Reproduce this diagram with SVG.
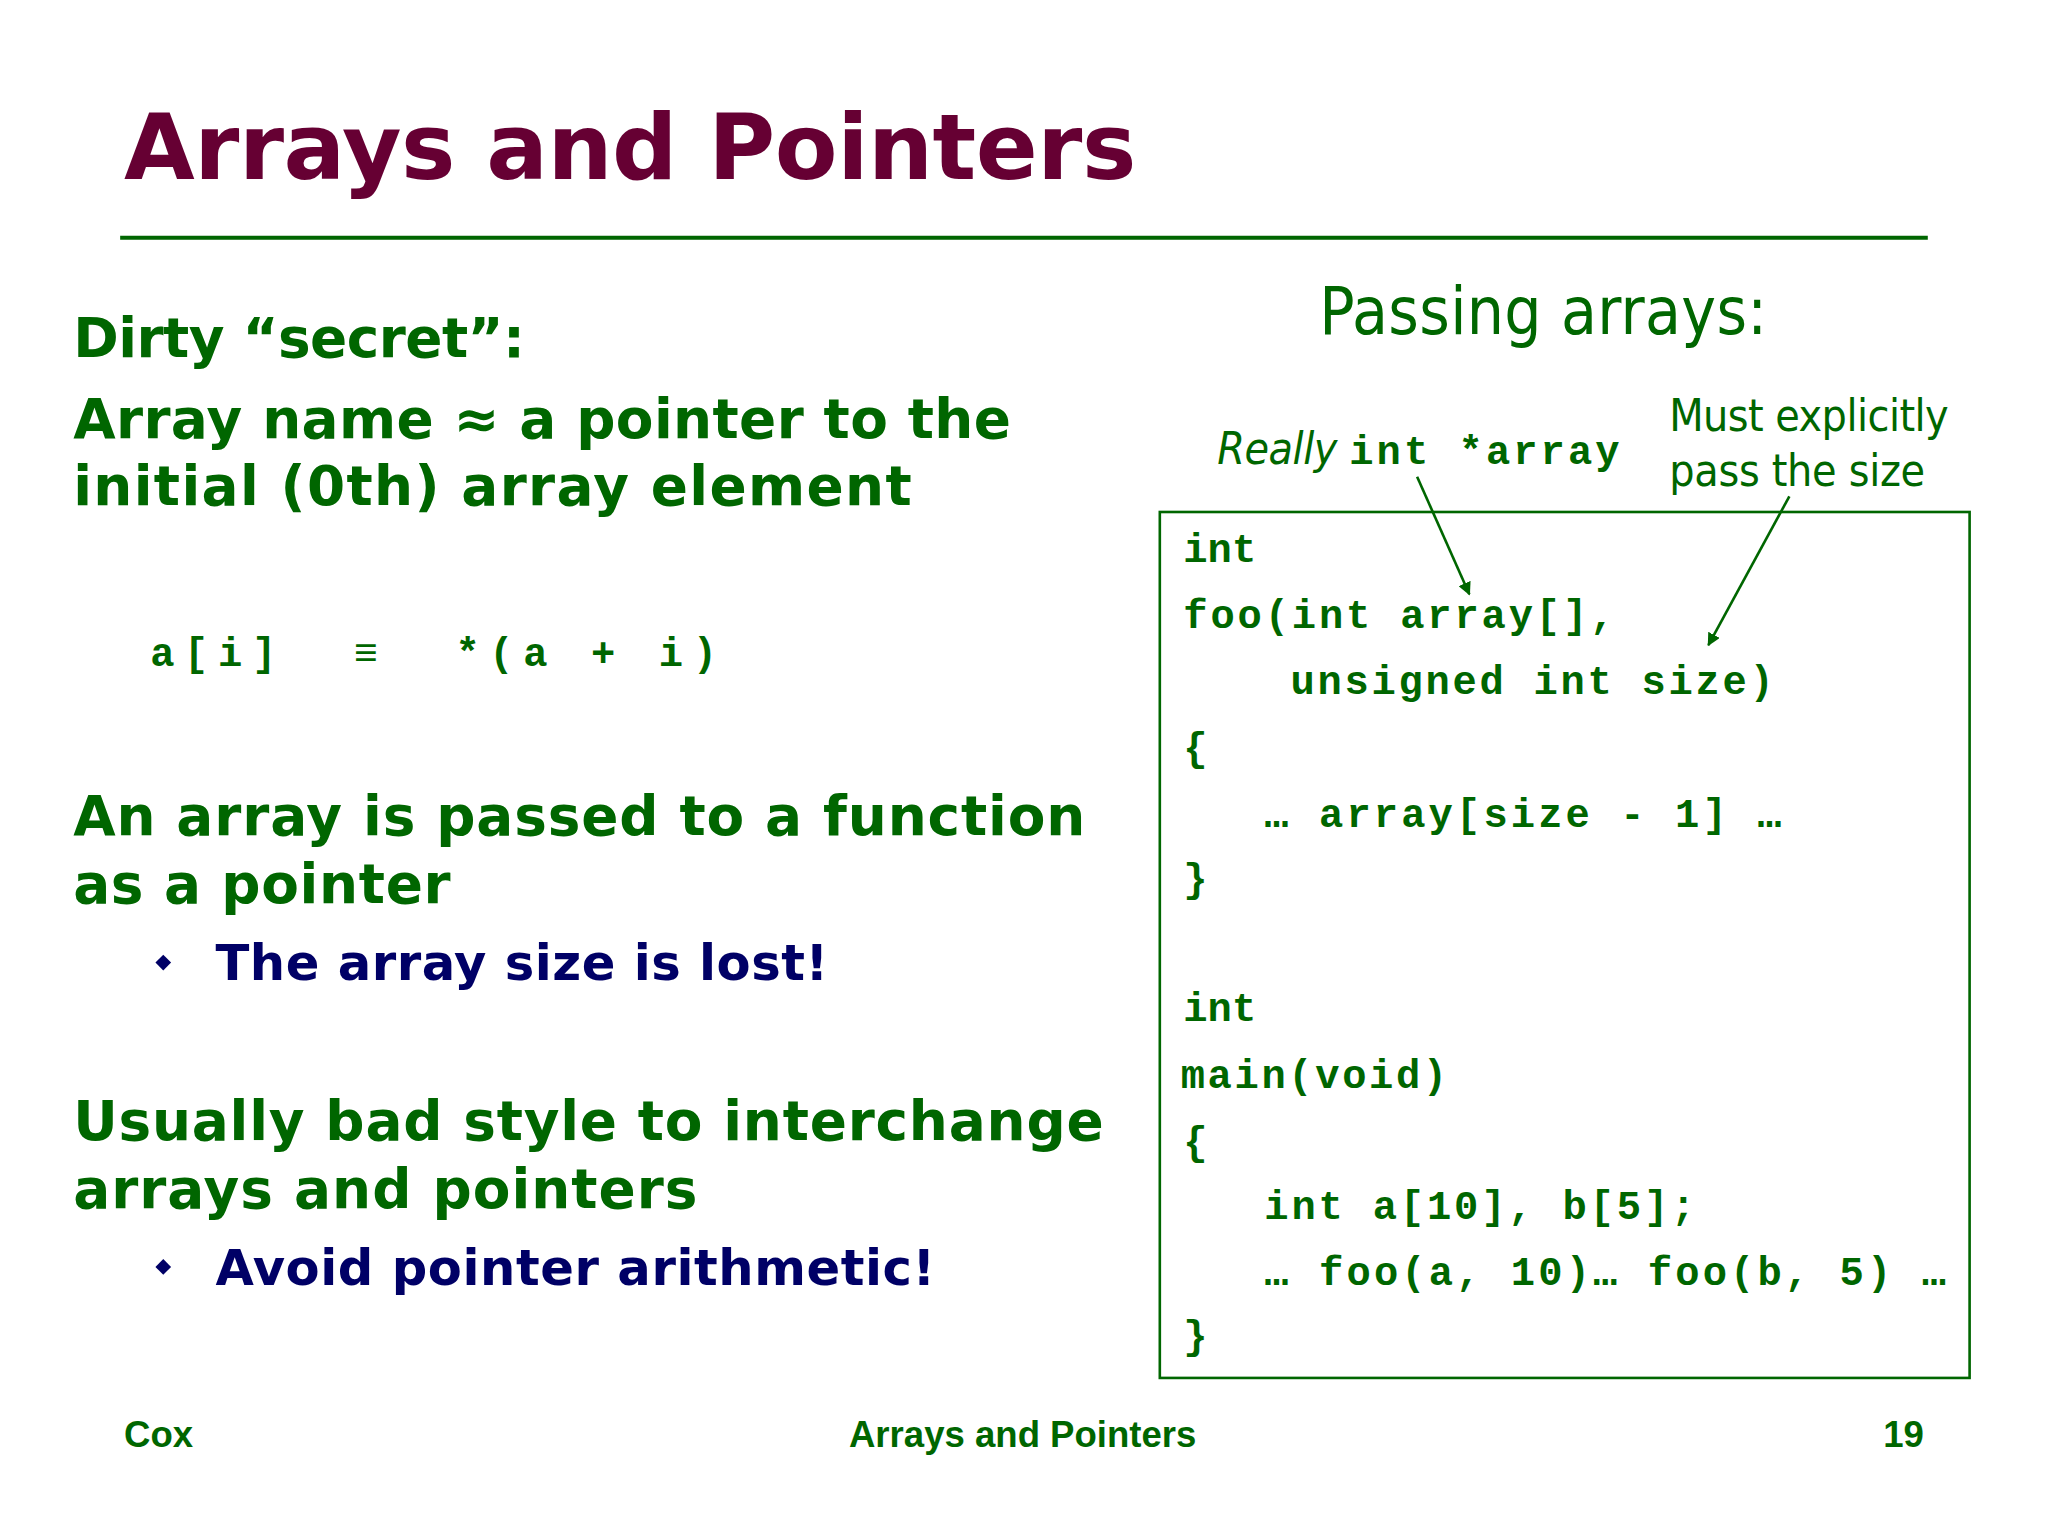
<svg xmlns="http://www.w3.org/2000/svg" width="2048" height="1536" viewBox="0 0 2048 1536">
<style>
.t{font-family:"DejaVu Sans",Verdana,sans-serif;font-weight:bold;fill:#006600}
.b{font-family:"DejaVu Sans",Verdana,sans-serif;font-weight:bold;fill:#000066;font-size:38px}
.m{font-family:"Liberation Mono","Courier New",monospace;font-weight:bold;fill:#006600;font-size:31px}
.n{font-family:"DejaVu Sans Condensed","DejaVu Sans",sans-serif;fill:#006600}
.f{font-family:"Liberation Sans",Arial,sans-serif;font-weight:bold;fill:#006600;font-size:28px}
</style>
<defs><marker id="ah" markerWidth="10" markerHeight="10" refX="9" refY="5" orient="auto" markerUnits="userSpaceOnUse"><path d="M0,0 L10,5 L0,10 z" fill="#006600"/></marker></defs>
<rect width="2048" height="1536" fill="#fff"/>
<g transform="scale(1.3061)">
<g id="title"><text x="95" y="137" font-family="DejaVu Sans,Verdana,sans-serif" font-weight="bold" font-size="70" fill="#660033" textLength="775">Arrays and Pointers</text>
<line x1="92" y1="182" x2="1476" y2="182" stroke="#006600" stroke-width="3"/></g>
<g id="left">
<text class="t" x="56" y="273" font-size="42" textLength="346">Dirty “secret”:</text>
<text class="t" x="56" y="335" font-size="42" textLength="718">Array name ≈ a pointer to the</text>
<text class="t" x="56" y="387" font-size="42" textLength="642">initial (0th) array element</text>
<text class="m" x="115" y="510" font-size="38" xml:space="preserve" textLength="434">a[i]  ≡  *(a + i)</text>
<text class="t" x="56" y="639" font-size="42" textLength="775">An array is passed to a function</text>
<text class="t" x="56" y="691" font-size="42" textLength="289">as a pointer</text>
<path d="M125,731 l6,6 l-6,6 l-6,-6 z" fill="#000066"/>
<text class="b" x="165" y="750" textLength="469">The array size is lost!</text>
<text class="t" x="56" y="873" font-size="42" textLength="789">Usually bad style to interchange</text>
<text class="t" x="56" y="925" font-size="42" textLength="478">arrays and pointers</text>
<path d="M125,964 l6,6 l-6,6 l-6,-6 z" fill="#000066"/>
<text class="b" x="165" y="984" textLength="551">Avoid pointer arithmetic!</text>
</g>
<g id="right">
<text class="n" x="1010" y="256" font-size="50" textLength="343">Passing arrays:</text>
<text class="n" x="932" y="355" font-size="34" font-style="italic" textLength="92">Really</text>
<text class="m" x="1033" y="355" textLength="207">int *array</text>
<text class="n" x="1278" y="330" font-size="34" textLength="214">Must explicitly</text>
<text class="n" x="1278" y="372" font-size="34" textLength="196">pass the size</text>
<rect x="888" y="392" width="620" height="663" fill="none" stroke="#006600" stroke-width="2"/>
<g xml:space="preserve">
<text class="m" x="906" y="430">int</text>
<text class="m" x="906" y="481" textLength="330">foo(int array[],</text>
<text class="m" x="988" y="531" textLength="370">unsigned int size)</text>
<text class="m" x="906" y="583">{</text>
<text class="m" x="968" y="633" textLength="396">… array[size - 1] …</text>
<text class="m" x="906" y="683">}</text>
<text class="m" x="906" y="782">int</text>
<text class="m" x="904" y="833" textLength="204">main(void)</text>
<text class="m" x="906" y="884">{</text>
<text class="m" x="968" y="933" textLength="330">int a[10], b[5];</text>
<text class="m" x="968" y="984" textLength="522">… foo(a, 10)… foo(b, 5)  …</text>
<text class="m" x="906" y="1033">}</text>
</g>
</g>
<g id="connectors" stroke="#006600" stroke-width="2">
<line x1="1085" y1="365" x2="1125" y2="455" marker-end="url(#ah)"/>
<line x1="1370" y1="380" x2="1308" y2="494" marker-end="url(#ah)"/>
</g>
<g id="footer">
<text class="f" x="95" y="1108">Cox</text>
<text class="f" x="783" y="1108" text-anchor="middle">Arrays and Pointers</text>
<text class="f" x="1473" y="1108" text-anchor="end">19</text>
</g>
</g>
</svg>
